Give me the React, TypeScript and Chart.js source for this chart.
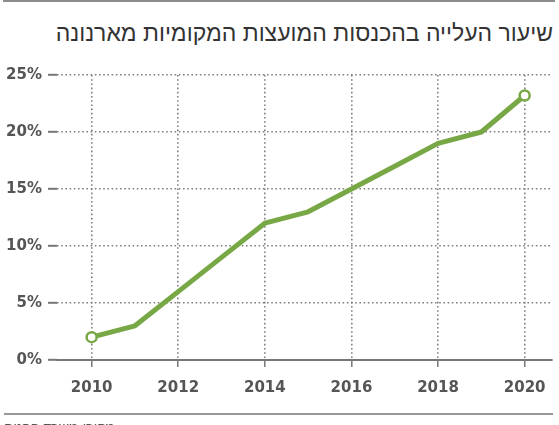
import React, { useEffect, useRef } from "react";
import { Chart, registerables } from "chart.js";

Chart.register(...registerables);

const title = "שיעור העלייה בהכנסות המועצות המקומיות מארנונה";
const source = "מקור: משרד הפנים";
const years = [2010, 2011, 2012, 2013, 2014, 2015, 2016, 2017, 2018, 2019, 2020];
const growth = [2, 3, 6, 9, 12, 13, 15, 17, 19, 20, 23.2];
const xTicks = [2010, 2012, 2014, 2016, 2018, 2020];
const yTicks = [0, 5, 10, 15, 20, 25];

const GREEN = "#78a846";
const GRID = "#808080";
const TEXT = "#555555";

export default function App() {
  const ref = useRef<HTMLCanvasElement | null>(null);
  useEffect(() => {
    document.body.style.margin = "0";
    const ctx = ref.current!;
    const last = years.length - 1;
    const chart = new Chart(ctx, {
      type: "line",
      data: {
        datasets: [
          {
            data: years.map((y, i) => ({ x: y, y: growth[i] })),
            borderColor: GREEN,
            borderWidth: 5,
            borderJoinStyle: "round",
            borderCapStyle: "round",
            pointRadius: years.map((_, i) => (i === 0 || i === last ? 5 : 0)),
            pointBackgroundColor: "#ffffff",
            pointBorderColor: GREEN,
            pointBorderWidth: 2.5,
            tension: 0,
          },
        ],
      },
      options: {
        animation: false,
        responsive: false,
        layout: { padding: { top: 75, right: 4, left: 0, bottom: 25 } },
        plugins: { legend: { display: false }, tooltip: { enabled: false }, title: { display: false } },
        scales: {
          x: {
            type: "linear",
            min: 2009.2,
            max: 2020.62,
            afterBuildTicks: (s: any) => {
              s.ticks = xTicks.map((v) => ({ value: v }));
            },
            afterFit: (s: any) => {
              s.height = 40;
            },
            grid: {
              color: GRID,
              lineWidth: 1.6,
              tickLength: 7,
              tickColor: "#777",
              tickWidth: 1.5,
              tickBorderDash: [],
              drawOnChartArea: true,
            },
            border: { display: true, color: "#777", width: 2, dash: [1.6, 2.6] },
            ticks: {
              color: TEXT,
              font: { family: "DejaVu Sans", weight: "bold", size: 15 },
              padding: 12,
              callback: (v: any) => String(v),
            },
          },
          y: {
            min: 0,
            max: 25,
            afterBuildTicks: (s: any) => {
              s.ticks = yTicks.map((v) => ({ value: v }));
            },
            afterFit: (s: any) => {
              s.width = 57;
            },
            grid: {
              color: (c: any) => (c.tick && c.tick.value === 0 ? "rgba(0,0,0,0)" : GRID),
              lineWidth: 1.6,
              tickLength: 9,
              tickColor: "#777",
              tickWidth: 2,
              tickBorderDash: [],
            },
            border: { display: false, dash: [1.6, 2.6] },
            ticks: {
              color: TEXT,
              font: { family: "DejaVu Sans", weight: "bold", size: 15 },
              padding: 6,
              callback: (v: any) => v + "%",
            },
          },
        },
      },
    });
    return () => chart.destroy();
  }, []);

  return (
    <div style={{ position: "absolute", left: 0, top: 0, width: 559, height: 425, overflow: "hidden", background: "#fff" }}>
      <div style={{ position: "absolute", left: 3, top: 0, width: 552, height: 2, background: "#8c8c8c" }} />
      <div
        style={{
          position: "absolute",
          right: 6,
          top: 19,
          direction: "rtl",
          fontFamily: "'Liberation Sans', Arial, sans-serif",
          fontSize: 23,
          color: "#333",
          whiteSpace: "nowrap",
          lineHeight: "28px",
        }}
      >
        {title}
      </div>
      <canvas ref={ref} width={559} height={425} style={{ position: "absolute", left: 0, top: 0, width: 559, height: 425 }} />
      <div style={{ position: "absolute", left: 4, top: 413, width: 549, height: 2, background: "#999" }} />
      <div
        style={{
          position: "absolute",
          left: 4,
          top: 419,
          direction: "rtl",
          fontFamily: "'Liberation Sans', Arial, sans-serif",
          fontSize: 14,
          color: "#555",
          whiteSpace: "nowrap",
        }}
      >
        {source}
      </div>
    </div>
  );
}
